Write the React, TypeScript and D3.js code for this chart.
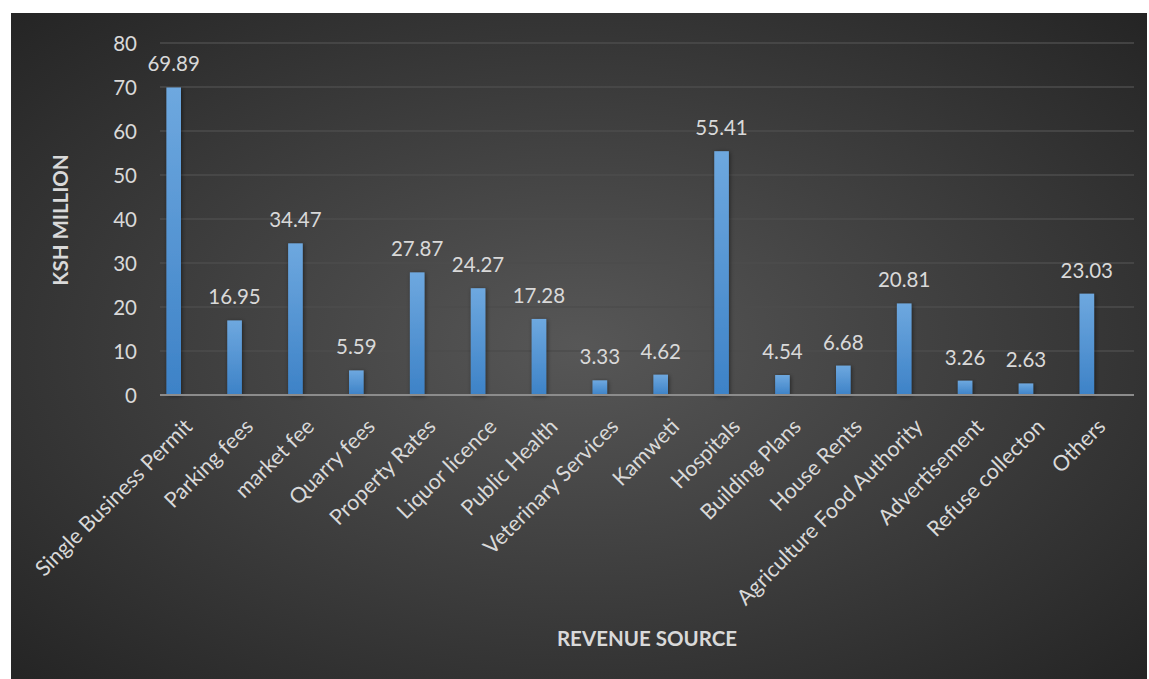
import React from "react";
import * as d3 from "d3";

const categories = [
  "Single Business Permit",
  "Parking fees",
  "market fee",
  "Quarry fees",
  "Property Rates",
  "Liquor licence",
  "Public Health",
  "Veterinary Services",
  "Kamweti",
  "Hospitals",
  "Building Plans",
  "House Rents",
  "Agriculture Food Authority",
  "Advertisement",
  "Refuse collecton",
  "Others",
];
const values = [69.89, 16.95, 34.47, 5.59, 27.87, 24.27, 17.28, 3.33, 4.62, 55.41, 4.54, 6.68, 20.81, 3.26, 2.63, 23.03];
const yTicks = [0, 10, 20, 30, 40, 50, 60, 70, 80];

const W = 1149;
const H = 679;
const FONT = "Lato, 'Open Sans', sans-serif";
const FS = 20.5;

export default function App() {
  const x = d3.scaleBand<string>().domain(categories).range([160, 1134]).padding(0);
  const y = d3.scaleLinear().domain([0, 80]).range([395, 43]);
  const bw = x.bandwidth();
  const barW = bw * 0.24;
  const barOff = bw * 0.105;

  return (
    <svg
      width={W}
      height={H}
      style={{ position: "absolute", left: 0, top: 0, display: "block" }}
      fontFamily={FONT}
    >
      <defs>
        <radialGradient id="bg" cx="50%" cy="50%" r="70%">
          <stop offset="0%" stopColor="#575757" />
          <stop offset="100%" stopColor="#252525" />
        </radialGradient>
        <linearGradient id="bar" x1="0" y1="0" x2="0" y2="1">
          <stop offset="0%" stopColor="#6ea8df" />
          <stop offset="100%" stopColor="#3d82c7" />
        </linearGradient>
        <filter id="shadow" x="-50%" y="-10%" width="200%" height="120%">
          <feDropShadow dx="1" dy="1" stdDeviation="2" floodColor="#000" floodOpacity="0.5" />
        </filter>
      </defs>
      <rect x={0} y={0} width={W} height={H} fill="#ffffff" />
      <rect x={11} y={13} width={1136} height={H - 13} fill="url(#bg)" />

      {yTicks.map((t) => (
        <g key={t}>
          {t !== 0 && (
            <line x1={160} x2={1134} y1={y(t)} y2={y(t)} stroke="#4d4d4d" strokeWidth={1.3} />
          )}
          <text
            x={137}
            y={y(t)}
            textAnchor="end"
            dominantBaseline="central"
            fontSize={FS}
            fill="#d9d9d9"
          >
            {t}
          </text>
        </g>
      ))}

      {categories.map((c, i) => {
        const bx = (x(c) as number) + barOff;
        const cx = bx + barW / 2;
        return (
          <g key={c}>
            <rect
              x={bx}
              y={y(values[i])}
              width={barW}
              height={y(0) - y(values[i])}
              fill="url(#bar)"
              filter="url(#shadow)"
            />
            <text
              x={cx}
              y={y(values[i]) - 16}
              textAnchor="middle"
              fontSize={FS}
              fill="#d9d9d9"
            >
              {values[i].toFixed(2)}
            </text>
            <text
              transform={`translate(${cx + 20},${428}) rotate(-45)`}
              textAnchor="end"
              fontSize={21.5}
              fill="#d9d9d9"
            >
              {c}
            </text>
          </g>
        );
      })}

      <line x1={160} x2={1134} y1={y(0)} y2={y(0)} stroke="#8c8c8c" strokeWidth={2} />

      <text
        x={647}
        y={638}
        textAnchor="middle"
        dominantBaseline="central"
        fontSize={FS}
        fontWeight="bold"
        fill="#d9d9d9"
      >
        REVENUE SOURCE
      </text>
      <text
        transform={`translate(60,220) rotate(-90)`}
        textAnchor="middle"
        dominantBaseline="central"
        fontSize={FS}
        fontWeight="bold"
        fill="#d9d9d9"
      >
        KSH MILLION
      </text>
    </svg>
  );
}
